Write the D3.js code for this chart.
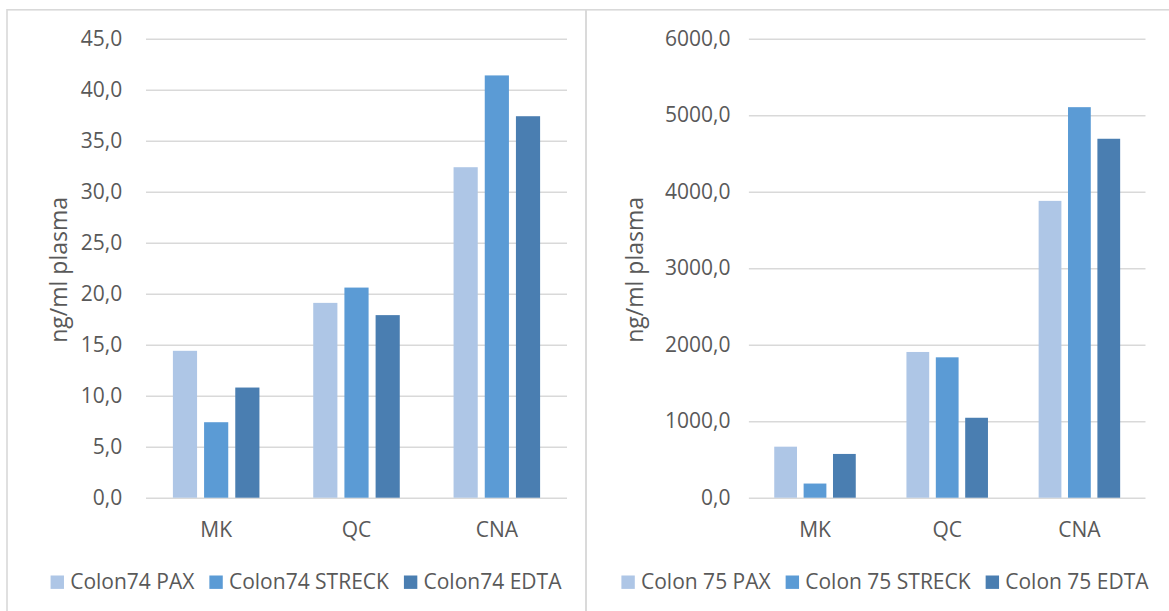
<!DOCTYPE html>
<html>
<head>
<meta charset="utf-8">
<script src="https://cdn.jsdelivr.net/npm/d3@7"></script>
<style>
  html, body { margin: 0; padding: 0; background: #fff; }
  svg { display: block; }
  text { font-family: "Open Sans", "Liberation Sans", sans-serif; fill: #595959; }
</style>
</head>
<body>
<svg id="chart" width="1169" height="611"></svg>
<script>
// Sample categories and tube types
const categories = ["MK", "QC", "CNA"];

// Colon 74 (ng/ml plasma)
const colon74Series = ["Colon74 PAX", "Colon74 STRECK", "Colon74 EDTA"];
const colon74PAX    = [14.4, 19.1, 32.4];
const colon74STRECK = [7.4, 20.6, 41.4];
const colon74EDTA   = [10.8, 17.9, 37.4];
const colon74Ticks  = [0, 5, 10, 15, 20, 25, 30, 35, 40, 45];

// Colon 75 (ng/ml plasma)
const colon75Series = ["Colon 75 PAX", "Colon 75 STRECK", "Colon 75 EDTA"];
const colon75PAX    = [667, 1905, 3880];
const colon75STRECK = [185, 1835, 5105];
const colon75EDTA   = [572, 1045, 4692];
const colon75Ticks  = [0, 1000, 2000, 3000, 4000, 5000, 6000];

const yTitle = "ng/ml plasma";
const seriesColors = ["#aec6e6", "#5b9bd5", "#4a7eb1"];

// Decimal comma formatting, e.g. "45,0"
const locale = d3.formatLocale({ decimal: ",", thousands: "", grouping: [3], currency: ["", ""] });
const fmt = locale.format(".1f");

const FS = 21;

const svg = d3.select("#chart");

// Panel frames
svg.append("rect").attr("x", 7).attr("y", 9.8).attr("width", 579).attr("height", 620)
  .attr("fill", "none").attr("stroke", "#d9d9d9").attr("stroke-width", 1.6);
svg.append("rect").attr("x", 586).attr("y", 9.8).attr("width", 600).attr("height", 620)
  .attr("fill", "none").attr("stroke", "#d9d9d9").attr("stroke-width", 1.6);

function drawPanel(cfg) {
  const g = svg.append("g");
  const x0 = d3.scaleBand().domain(categories).range([cfg.left, cfg.right]).padding(0);
  const group = x0.bandwidth() * 2 / 3;
  const x1 = d3.scaleBand().domain(cfg.series)
    .range([-group / 2, group / 2]).paddingInner(0.225).paddingOuter(0.1125);
  const y = d3.scaleLinear().domain([0, d3.max(cfg.ticks)]).range([497.7, 38.7]);

  // Gridlines + tick labels via the axis generator
  const yAxis = d3.axisLeft(y).tickValues(cfg.ticks).tickFormat(fmt)
    .tickSize(-(cfg.right - cfg.left)).tickPadding(0);
  const ax = g.append("g").attr("transform", `translate(${cfg.left},0)`).call(yAxis);
  ax.select(".domain").remove();
  ax.selectAll(".tick line").attr("stroke", "#d9d9d9").attr("stroke-width", 1.6);
  ax.selectAll(".tick text")
    .attr("x", cfg.labelRight - cfg.left).attr("dy", null).attr("y", 6.5)
    .attr("text-anchor", "end")
    .style("font-size", FS + "px").style("fill", "#595959")
    .style("font-family", '"Open Sans", sans-serif');

  // Bars
  const rows = categories.map((c, i) => ({ cat: c, vals: cfg.values.map(v => v[i]) }));
  const grp = g.append("g").selectAll("g").data(rows).join("g")
    .attr("transform", d => `translate(${x0(d.cat) + x0.bandwidth() / 2},0)`);
  grp.selectAll("rect")
    .data(d => d.vals.map((v, k) => ({ s: cfg.series[k], v, k })))
    .join("rect")
    .attr("x", d => x1(d.s))
    .attr("width", x1.bandwidth())
    .attr("y", d => y(d.v))
    .attr("height", d => y(0) - y(d.v))
    .attr("fill", d => seriesColors[d.k]);

  // Category labels
  const xAxis = d3.axisBottom(x0).tickSize(0).tickPadding(0);
  const xa = g.append("g").call(xAxis);
  xa.select(".domain").remove();
  xa.selectAll(".tick text").attr("y", 537).attr("dy", null)
    .style("font-size", FS + "px").style("fill", "#595959")
    .style("font-family", '"Open Sans", sans-serif');

  // Y axis title
  g.append("text")
    .attr("transform", `translate(${cfg.titleX},${269.9}) rotate(-90)`)
    .attr("text-anchor", "middle")
    .style("font-size", "23px")
    .text(yTitle);

  // Legend
  const lg = g.append("g");
  const items = cfg.series.map((s, k) => {
    const it = lg.append("g");
    it.append("rect").attr("width", 13.4).attr("height", 13.4).attr("y", 575.5)
      .attr("fill", seriesColors[k]);
    const t = it.append("text").attr("x", 13.4 + 6.2).attr("y", 588.5)
      .style("font-size", FS + "px").text(s);
    return { it, w: 13.4 + 6.2 + t.node().getComputedTextLength() };
  });
  const gap = 15;
  const total = d3.sum(items, d => d.w) + gap * (items.length - 1);
  let cx = cfg.legendCenter - total / 2;
  items.forEach(d => { d.it.attr("transform", `translate(${cx},0)`); cx += d.w + gap; });
}

drawPanel({
  left: 146, right: 567, labelRight: 122.3, titleX: 67,
  series: colon74Series, values: [colon74PAX, colon74STRECK, colon74EDTA],
  ticks: colon74Ticks, legendCenter: 306
});
drawPanel({
  left: 748.9, right: 1145.5, labelRight: 730.4, titleX: 643,
  series: colon75Series, values: [colon75PAX, colon75STRECK, colon75EDTA],
  ticks: colon75Ticks, legendCenter: 885
});
</script>
</body>
</html>
